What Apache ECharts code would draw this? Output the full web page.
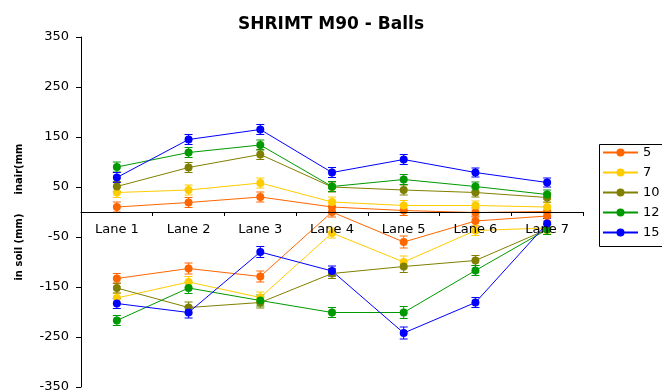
<!DOCTYPE html>
<html>
<head>
<meta charset="utf-8">
<script src="https://cdn.jsdelivr.net/npm/echarts@6/dist/echarts.min.js"></script>
<style>html,body{margin:0;padding:0;background:#fff;}#c{width:662px;height:390px;}</style>
</head>
<body>
<div id="c"></div>
<script>
var categories = ['Lane 1','Lane 2','Lane 3','Lane 4','Lane 5','Lane 6','Lane 7'];
var seriesNames = ['5','7','10','12','15'];
var colors = ['#FF6600','#FFCC00','#808000','#009900','#0000FF'];
var yTicks = [-350,-250,-150,-50,50,150,250,350];

// in air (positive)
var air5  = [10, 19, 30, 10, 3, -1, 1];
var air7  = [39, 44, 58, 20, 13, 13, 10];
var air10 = [51, 89, 115, 50, 44, 39, 29];
var air12 = [90, 119, 134, 51, 65, 51, 35];
var air15 = [69, 145, 165, 79, 105, 79, 59];
// in soil (negative)
var soil5  = [-133, -113, -129, 0, -60, -18, -8];
var soil7  = [-172, -140, -171, -42, -100, -37, -32];
var soil10 = [-152, -191, -181, -123, -109, -97, -35];
var soil12 = [-217, -152, -177, -201, -201, -117, -35];
var soil15 = [-183, -201, -80, -118, -242, -181, -23];
// error (+/-)
var airErr  = [10, 10, 10, 10, 10, 9, 9];
var soilErr = [10, 11, 11, 10, 12, 10, 10];

var airSets = [air5, air7, air10, air12, air15];
var soilSets = [soil5, soil7, soil10, soil12, soil15];

var FONT = 'DejaVu Sans';
var series = [];

function lineSeries(name, data, color) {
  return {
    name: name, type: 'line', data: data,
    symbol: 'circle', symbolSize: 8,
    itemStyle: { color: color },
    lineStyle: { color: color, width: 1 },
    emphasis: { disabled: true },
    z: 3
  };
}
function errSeries(name, data, err, color) {
  var d = data.map(function (v, i) { return [i, v - err[i], v + err[i]]; });
  return {
    name: name + ' err', type: 'custom', data: d,
    renderItem: function (params, api) {
      var x = api.value(0);
      var lo = api.coord([x, api.value(1)]);
      var hi = api.coord([x, api.value(2)]);
      var hw = 4;
      var st = { stroke: color, lineWidth: 1 };
      return {
        type: 'group',
        children: [
          { type: 'line', shape: { x1: lo[0], y1: lo[1], x2: hi[0], y2: hi[1] }, style: st },
          { type: 'line', shape: { x1: lo[0] - hw, y1: lo[1], x2: lo[0] + hw, y2: lo[1] }, style: st },
          { type: 'line', shape: { x1: hi[0] - hw, y1: hi[1], x2: hi[0] + hw, y2: hi[1] }, style: st }
        ]
      };
    },
    z: 2, silent: true
  };
}

for (var k = 0; k < seriesNames.length; k++) {
  series.push(errSeries(seriesNames[k], airSets[k], airErr, colors[k]));
  series.push(errSeries(seriesNames[k], soilSets[k], soilErr, colors[k]));
}
for (var k = 0; k < seriesNames.length; k++) {
  series.push(lineSeries(seriesNames[k], airSets[k], colors[k]));
  series.push(lineSeries(seriesNames[k], soilSets[k], colors[k]));
}

var GRID_TOP = 37, GRID_BOTTOM = 3, H = 390;
var plotH = H - GRID_TOP - GRID_BOTTOM;
// distance from bottom edge of plot to value 0 (y range -350..350)
var zeroOffset = -plotH * (0 - (-350)) / 700;

var chart = echarts.init(document.getElementById('c'));
chart.setOption({
  animation: false,
  backgroundColor: '#fff',
  title: {
    text: 'SHRIMT M90 - Balls', left: 'center', top: 11,
    textStyle: { fontFamily: FONT, fontSize: 17, fontWeight: 'bold', color: '#000' }
  },
  legend: {
    data: seriesNames, orient: 'vertical', left: 597, top: 142,
    padding: [3, 30, 4, 5], itemWidth: 35, itemHeight: 10, itemGap: 5,
    borderWidth: 0,
    textStyle: { fontFamily: FONT, fontSize: 13, color: '#000', lineHeight: 15 }
  },
  grid: { left: 81, right: 79, top: GRID_TOP, bottom: GRID_BOTTOM, containLabel: false, outerBoundsMode: 'none' },
  xAxis: {
    type: 'category', data: categories, boundaryGap: true,
    position: 'bottom', offset: zeroOffset,
    axisLine: { onZero: false, lineStyle: { color: '#000', width: 1 } },
    axisTick: { show: true, inside: false, length: 4, lineStyle: { color: '#000' } },
    axisLabel: { interval: 0, margin: 11, fontFamily: FONT, fontSize: 13, color: '#000' },
    splitLine: { show: false },
    z: 5
  },
  yAxis: {
    type: 'value', min: -350, max: 350,
    axisLine: { show: true, onZero: false, lineStyle: { color: '#000', width: 1 } },
    axisTick: { show: true, length: 5, customValues: yTicks, lineStyle: { color: '#000' } },
    axisLabel: { customValues: yTicks, margin: 12, fontFamily: FONT, fontSize: 13, color: '#000' },
    splitLine: { show: false }
  },
  graphic: [
    { type: 'rect', left: 597, top: 142, shape: { width: 90, height: 102 },
      style: { fill: 'none', stroke: '#000', lineWidth: 1 }, z: 10 },
    { type: 'text', x: 19, y: 169, rotation: Math.PI / 2,
      style: { text: 'inair(mm', fontFamily: FONT, fontSize: 10, fontWeight: 'bold', fill: '#000', align: 'center', verticalAlign: 'middle' } },
    { type: 'text', x: 19, y: 247, rotation: Math.PI / 2,
      style: { text: 'in soil (mm)', fontFamily: FONT, fontSize: 10, fontWeight: 'bold', fill: '#000', align: 'center', verticalAlign: 'middle' } }
  ],
  series: series
});
</script>
</body>
</html>
